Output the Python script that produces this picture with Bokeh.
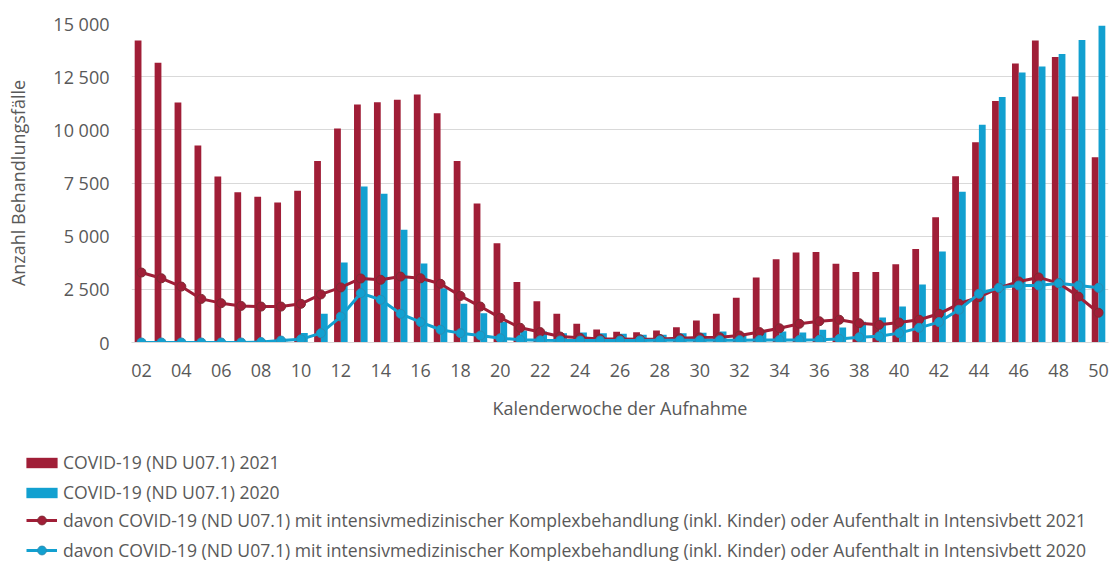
from bokeh.plotting import figure
from bokeh.models import Range1d, FixedTicker, Legend, LegendItem, ColumnDataSource
from bokeh.transform import dodge
from bokeh.embed import file_html
from bokeh.resources import INLINE

weeks = list(range(2, 51))
week_labels = [f"{w:02d}" for w in weeks]

cases_2021 = [14200, 13150, 11290, 9260, 7800, 7070, 6850, 6580, 7130, 8530,
              10060, 11190, 11300, 11410, 11660, 10780, 8540, 6540, 4670, 2840,
              1940, 1350, 880, 610, 500, 480, 560, 720, 1030, 1350,
              2100, 3060, 3920, 4230, 4260, 3700, 3310, 3310, 3680, 4400,
              5890, 7820, 9420, 11360, 13120, 14200, 13430, 11570, 8710]
cases_2020 = [0, 0, 0, 0, 0, 0, 0, 30, 450, 1350,
              3760, 7330, 6990, 5300, 3720, 2550, 1820, 1380, 960, 560,
              520, 440, 470, 440, 410, 360, 360, 440, 460, 520,
              420, 560, 520, 470, 600, 700, 970, 1180, 1690, 2730,
              4280, 7090, 10240, 11540, 12700, 12980, 13570, 14230, 14890]
icu_2021 = [3290, 3020, 2630, 2050, 1850, 1720, 1690, 1690, 1820, 2260,
            2590, 3010, 2950, 3100, 3020, 2760, 2190, 1690, 1160, 690,
            490, 280, 220, 170, 160, 150, 170, 200, 235, 250,
            330, 490, 670, 880, 1000, 1070, 910, 830, 940, 1070,
            1350, 1820, 2130, 2570, 2870, 3060, 2790, 2160, 1400]
icu_2020 = [0, 0, 0, 0, 0, 0, 20, 90, 150, 440,
            1220, 2320, 2010, 1350, 960, 600, 440, 330, 200, 130,
            100, 95, 90, 90, 90, 95, 100, 100, 105, 110,
            110, 115, 120, 120, 125, 170, 250, 290, 440, 690,
            960, 1540, 2290, 2570, 2680, 2680, 2790, 2680, 2570]

y_ticks = [0, 2500, 5000, 7500, 10000, 12500, 15000]
y_tick_labels = ["0", "2 500", "5 000", "7 500", "10 000", "12 500", "15 000"]

labels = ["COVID-19 (ND U07.1) 2021",
          "COVID-19 (ND U07.1) 2020",
          "davon COVID-19 (ND U07.1) mit intensivmedizinischer Komplexbehandlung (inkl. Kinder) oder Aufenthalt in Intensivbett 2021",
          "davon COVID-19 (ND U07.1) mit intensivmedizinischer Komplexbehandlung (inkl. Kinder) oder Aufenthalt in Intensivbett 2020"]

RED = "#A01E37"
BLUE = "#12A0D0"
RED_EDGE = "#7E2A33"
BLUE_EDGE = "#2A8DB3"
GRID = "#D9D9D9"
TXT = "#595959"
FONT = "Open Sans"


def add_series(fig, src):
    r1 = fig.vbar(x=dodge("week", -0.17), top="c21", width=0.34, source=src,
                  fill_color=RED, line_color=None)
    r2 = fig.vbar(x=dodge("week", 0.17), top="c20", width=0.34, source=src,
                  fill_color=BLUE, line_color=None)
    l1 = fig.line("week", "i21", source=src, line_color=RED, line_width=3)
    s1 = fig.scatter("week", "i21", source=src, size=9, fill_color=RED,
                     line_color=RED_EDGE, line_width=1)
    l2 = fig.line("week", "i20", source=src, line_color=BLUE, line_width=3)
    s2 = fig.scatter("week", "i20", source=src, size=9, fill_color=BLUE,
                     line_color=BLUE_EDGE, line_width=1)
    return r1, r2, l1, s1, l2, s2


src = ColumnDataSource(dict(week=weeks, c21=cases_2021, c20=cases_2020,
                            i21=icu_2021, i20=icu_2020))

# ---- main chart ----
p = figure(width=1115, height=430, x_range=Range1d(1.5, 50.5),
           y_range=Range1d(0, 15000), output_backend="svg",
           toolbar_location=None, min_border_left=131, min_border_right=7,
           min_border_top=23, min_border_bottom=88)
add_series(p, src)

p.xaxis.ticker = FixedTicker(ticks=weeks[::2])
p.xaxis.major_label_overrides = {w: lab for w, lab in zip(weeks, week_labels)}
p.yaxis.ticker = FixedTicker(ticks=y_ticks)
p.yaxis.major_label_overrides = {t: lab for t, lab in zip(y_ticks, y_tick_labels)}
for ax in (p.xaxis, p.yaxis):
    ax.major_tick_line_color = None
    ax.minor_tick_line_color = None
    ax.major_label_text_font = FONT
    ax.major_label_text_font_size = "18px"
    ax.major_label_text_color = TXT
    ax.axis_label_text_font = FONT
    ax.axis_label_text_font_size = "18px"
    ax.axis_label_text_color = TXT
    ax.axis_label_text_font_style = "normal"
p.xaxis.axis_line_color = GRID
p.yaxis.axis_line_color = None
p.xaxis.major_label_standoff = 15
p.yaxis.major_label_standoff = 16
p.xaxis.axis_label = "Kalenderwoche der Aufnahme"
p.yaxis.axis_label = "Anzahl Behandlungsfälle"
p.xaxis.axis_label_standoff = 16
p.yaxis.axis_label_standoff = 20
p.xgrid.grid_line_color = None
p.ygrid.grid_line_color = GRID
p.outline_line_color = None

# ---- legend panel (series drawn outside its visible range; only legend shows) ----
pl = figure(width=1115, height=133, x_range=Range1d(1.5, 50.5),
            y_range=Range1d(20000, 30000), output_backend="svg",
            toolbar_location=None, x_axis_type=None, y_axis_type=None,
            min_border=0)
r1, r2, l1, s1, l2, s2 = add_series(pl, src)
pl.grid.grid_line_color = None
pl.outline_line_color = None

common = dict(label_text_font=FONT, label_text_font_size="17.6px",
              label_text_color=TXT, label_height=25, spacing=5, padding=0,
              margin=0, border_line_color=None, background_fill_alpha=0,
              inactive_fill_alpha=0)
leg1 = Legend(items=[LegendItem(label=labels[0], renderers=[r1]),
                     LegendItem(label=labels[1], renderers=[r2])],
              location=(22, 58.5), glyph_width=39, glyph_height=13,
              label_standoff=2, **common)
leg2 = Legend(items=[LegendItem(label=labels[2], renderers=[l1, s1]),
                     LegendItem(label=labels[3], renderers=[l2, s2])],
              location=(26, 0.5), glyph_width=31, glyph_height=22,
              label_standoff=6, **common)
pl.add_layout(leg1)
pl.add_layout(leg2)

open("out.html", "w").write(file_html([p, pl], INLINE))
